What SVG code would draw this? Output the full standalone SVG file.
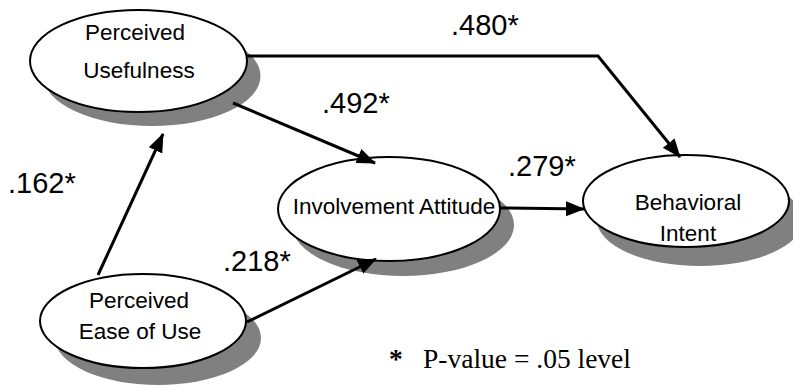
<svg xmlns="http://www.w3.org/2000/svg" width="793" height="386" viewBox="0 0 793 386">
<defs>
<marker id="arr" markerUnits="userSpaceOnUse" markerWidth="20" markerHeight="16" refX="18" refY="7.5" orient="auto">
<path d="M0,0 L19,7.5 L0,15 z" fill="#000"/>
</marker>
<style>
.sh{fill:#808080;stroke:none}
.el{fill:#fff;stroke:#000;stroke-width:2}
.nt{font-family:"Liberation Sans",Arial,sans-serif;font-size:22.5px;fill:#000;text-anchor:middle}
.lb{font-family:"Liberation Sans",Arial,sans-serif;font-size:29px;fill:#000}
.fn{font-family:"Liberation Serif","Times New Roman",serif;font-size:27.5px;fill:#000}
.cn{fill:none;stroke:#000;stroke-width:3;marker-end:url(#arr)}
</style>
</defs>
<rect width="793" height="386" fill="#fff"/>
<g id="pu">
<ellipse class="sh" cx="152" cy="76" rx="108.5" ry="50"/>
<ellipse class="el" cx="138.5" cy="61" rx="108.5" ry="51"/>
<text class="nt" x="135" y="40">Perceived</text>
<text class="nt" x="139" y="78">Usefulness</text>
</g>
<g id="ia">
<ellipse class="sh" cx="403" cy="225" rx="111" ry="51"/>
<ellipse class="el" cx="389" cy="209" rx="111" ry="52"/>
<text class="nt" x="394" y="214">Involvement Attitude</text>
</g>
<g id="bi">
<ellipse class="sh" cx="700" cy="220" rx="103" ry="46"/>
<ellipse class="el" cx="686" cy="201" rx="103" ry="46"/>
<text class="nt" x="688" y="210">Behavioral</text>
<text class="nt" x="688" y="241">Intent</text>
</g>
<g id="peu">
<ellipse class="sh" cx="158" cy="338" rx="103" ry="47"/>
<ellipse class="el" cx="143" cy="321" rx="103" ry="47"/>
<text class="nt" x="139" y="308">Perceived</text>
<text class="nt" x="140" y="339">Ease of Use</text>
</g>
<g id="connectors">
<polyline class="cn" points="247,56 598,56 680,157"/>
<line class="cn" x1="233" y1="103" x2="375" y2="163"/>
<line class="cn" x1="98" y1="275" x2="163" y2="134"/>
<line class="cn" x1="247" y1="322" x2="376" y2="259"/>
<line class="cn" x1="500" y1="208" x2="584" y2="209"/>
</g>
<g id="labels">
<text class="lb" x="451" y="35">.480*</text>
<text class="lb" x="322" y="113">.492*</text>
<text class="lb" x="8" y="193">.162*</text>
<text class="lb" x="223" y="271">.218*</text>
<text class="lb" x="508" y="176">.279*</text>
<text class="fn" x="389" y="368"><tspan font-weight="bold">*</tspan></text>
<text class="fn" x="423" y="368">P-value = .05 level</text>
</g>
</svg>
